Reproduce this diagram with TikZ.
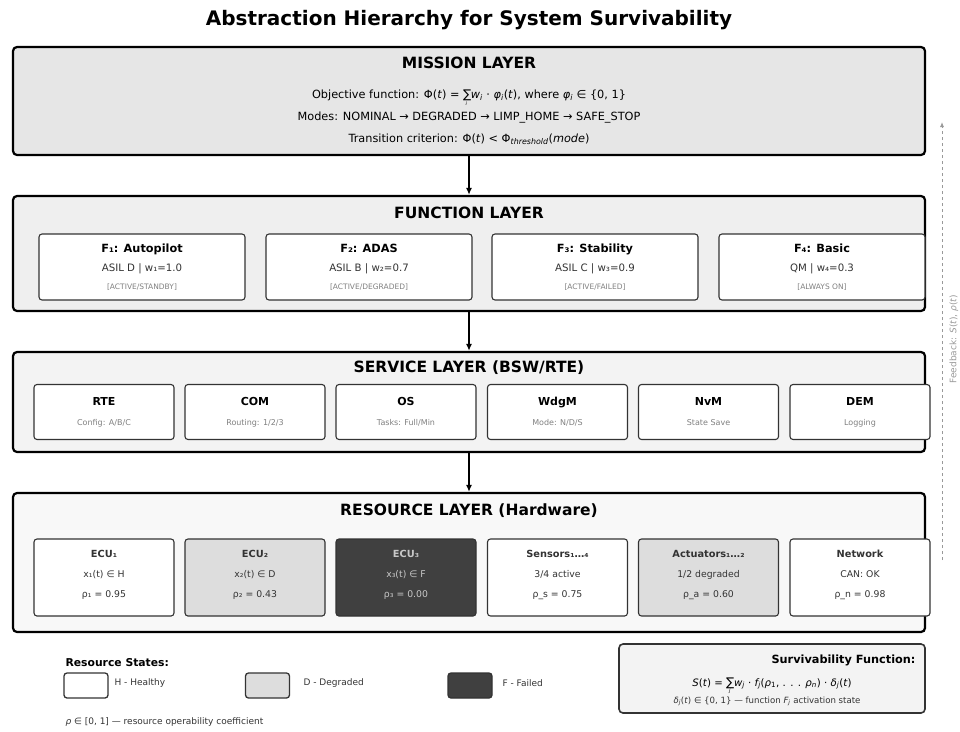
\documentclass[tikz,border=0pt]{standalone}
\usepackage{fontspec}
\setmainfont{DejaVu Sans}
\usetikzlibrary{arrows.meta}

\definecolor{missionfill}{HTML}{E6E6E6}
\definecolor{functionfill}{HTML}{EFEFEF}
\definecolor{servicefill}{HTML}{F3F3F3}
\definecolor{resourcefill}{HTML}{F8F8F8}
\definecolor{degradedfill}{HTML}{DDDDDD}
\definecolor{failedfill}{HTML}{404040}
\definecolor{failedtext}{HTML}{C8C8C8}
\definecolor{boxedge}{HTML}{333333}
\definecolor{subtext}{HTML}{333333}
\definecolor{faint}{HTML}{808080}
\definecolor{fbgray}{HTML}{999999}

% summation sign with an index set below it
\newcommand{\sumidx}[1]{\raisebox{-0.1ex}{\large ∑}\kern-0.5em\raisebox{-1.2ex}{\tiny\itshape #1}\kern0.35em}

\begin{document}
\begin{tikzpicture}[x=1pt,y=-1pt,
  layer/.style={draw=black, line width=2.2pt, rounded corners=4pt, minimum width=912pt, inner sep=0pt},
  layertitle/.style={font=\bfseries\fontsize{15.5}{18}\selectfont},
  line/.style={anchor=base, font=\fontsize{11.3}{13}\selectfont},
  fbox/.style={draw=boxedge, line width=1.1pt, rounded corners=3pt, fill=white,
    minimum width=206pt, minimum height=66pt, align=center, inner sep=0pt},
  sbox/.style={draw=boxedge, line width=1.1pt, rounded corners=3pt, fill=white,
    minimum width=140pt, minimum height=55pt, align=center, inner sep=0pt},
  rbox/.style={draw=boxedge, line width=1.1pt, rounded corners=3pt,
    minimum width=140pt, minimum height=77pt, inner sep=0pt},
  lbox/.style={draw=boxedge, line width=1.3pt, rounded corners=3pt,
    minimum width=44pt, minimum height=25pt, inner sep=0pt},
  legtext/.style={anchor=west, font=\fontsize{9}{11}\selectfont, text=subtext},
  down/.style={line width=1.6pt, -{Latex[length=7pt,width=6pt]}},
]
\useasboundingbox (0,0) rectangle (960,731);

\node[font=\bfseries\fontsize{20}{24}\selectfont] (title) at (469,20) {Abstraction Hierarchy for System Survivability};

% ---------------- mission layer
\node[layer, fill=missionfill, minimum height=108pt] (mission) at (469,101) {};
\node[layertitle] (missiontitle) at (469,62.5) {MISSION LAYER};
\node[line] (objective) at (469,98) {Objective function: Φ(\textit{t}) = \sumidx{i}\textit{w\textsubscript{i}} · \textit{φ\textsubscript{i}}(\textit{t}), where \textit{φ\textsubscript{i}} ∈ \{0, 1\}};
\node[line] (modes) at (469,120) {Modes: NOMINAL → DEGRADED → LIMP\_HOME → SAFE\_STOP};
\node[line] (criterion) at (469,142) {Transition criterion: Φ(\textit{t}) < Φ\textsubscript{\textit{threshold}}(\textit{mode})};

% ---------------- function layer
\node[layer, fill=functionfill, minimum height=115pt] (function) at (469,253.5) {};
\node[layertitle] (functiontitle) at (469,213) {FUNCTION LAYER};
\foreach \n/\x/\name/\asil/\st in {f1/142/F₁: Autopilot/ASIL D | w₁=1.0/{[ACTIVE/STANDBY]},
    f2/369/F₂: ADAS/ASIL B | w₂=0.7/{[ACTIVE/DEGRADED]},
    f3/595/F₃: Stability/ASIL C | w₃=0.9/{[ACTIVE/FAILED]},
    f4/822/F₄: Basic/QM | w₄=0.3/{[ALWAYS ON]}}
  \node[fbox] (\n) at (\x,267) {{\bfseries\fontsize{11.3}{13}\selectfont \name}\\[7pt]
    {\fontsize{10.2}{12}\selectfont\color{subtext}\asil}\\[6pt]
    {\fontsize{7.5}{9}\selectfont\color{faint}\st}};

% ---------------- service layer
\node[layer, fill=servicefill, minimum height=100pt] (service) at (469,402) {};
\node[layertitle] (servicetitle) at (469,368) {SERVICE LAYER (BSW/RTE)};
\foreach \n/\x/\name/\sub in {rte/104/RTE/{Config: A/B/C}, com/255/COM/{Routing: 1/2/3},
    os/406/OS/{Tasks: Full/Min}, wdgm/557.5/WdgM/{Mode: N/D/S},
    nvm/708.5/NvM/{State Save}, dem/860/DEM/{Logging}}
  \node[sbox] (\n) at (\x,412) {{\bfseries\fontsize{11}{13}\selectfont \name}\\[8pt]
    {\fontsize{8}{10}\selectfont\color{faint}\sub}};

% ---------------- resource layer
\node[layer, fill=resourcefill, minimum height=139pt] (resource) at (469,562.5) {};
\node[layertitle] (resourcetitle) at (469,511) {RESOURCE LAYER (Hardware)};
\foreach \n/\x/\fill/\tc/\name/\st/\rho in {ecu1/104/white/subtext/ECU₁/{x₁(t) ∈ H}/{ρ₁ = 0.95},
    ecu2/255/degradedfill/subtext/ECU₂/{x₂(t) ∈ D}/{ρ₂ = 0.43},
    ecu3/406/failedfill/failedtext/ECU₃/{x₃(t) ∈ F}/{ρ₃ = 0.00},
    sens/557.5/white/subtext/Sensors₁…₄/{3/4 active}/{ρ\_s = 0.75},
    act/708.5/degradedfill/subtext/Actuators₁…₂/{1/2 degraded}/{ρ\_a = 0.60},
    net/860/white/subtext/Network/{CAN: OK}/{ρ\_n = 0.98}}
  {
  \node[rbox, fill=\fill] (\n) at (\x,577.5) {};
  \node[text=\tc, align=center, inner sep=0pt] (\n-text) at ([yshift=3pt]\n.center)
    {{\bfseries\fontsize{9.8}{12}\selectfont \name\vphantom{ECU₁}}\\[8pt]
    {\fontsize{9.3}{11}\selectfont \st}\\[8pt]
    {\fontsize{9.3}{11}\selectfont \rho}};
  }

% ---------------- flow between layers
\draw[down] (mission) -- (function);
\draw[down] (function) -- (service);
\draw[down] (service) -- (resource);

% ---------------- feedback path
\coordinate (fbstart) at (942,560);
\coordinate (fbend) at (942,122);
\draw[fbgray, line width=0.9pt, dashed, -{Latex[length=5pt,width=4pt]}] (fbstart) -- (fbend);
\node[rotate=90, text=fbgray, font=\fontsize{9}{11}\selectfont, inner sep=1pt] (fblabel) at (954,339) {Feedback: \textit{S}(\textit{t}), \textit{ρ}(\textit{t})};

% ---------------- legend
\node[anchor=west, font=\bfseries\fontsize{10.8}{13}\selectfont] (legtitle) at (62,663) {Resource States:};
\node[lbox, fill=white] (legh) at (86,685.5) {};
\node[legtext] (leghl) at (111,683) {H - Healthy};
\node[lbox, fill=degradedfill] (legd) at (267.5,685.5) {};
\node[legtext] (legdl) at (300,683) {D - Degraded};
\node[lbox, fill=failedfill] (legf) at (470,685.5) {};
\node[legtext] (legfl) at (499,683) {F - Failed};
\node[legtext] (rhonote) at (62,722) {\textit{ρ} ∈ [0, 1] — resource operability coefficient};

% ---------------- survivability function
\node[draw=boxedge, line width=1.6pt, rounded corners=4pt, fill=servicefill,
  minimum width=306pt, minimum height=69pt] (surv) at (772,678.5) {};
\node[anchor=east, font=\bfseries\fontsize{11.3}{13}\selectfont] (survtitle) at (919,660) {Survivability Function:};
\node[anchor=base, font=\fontsize{10.2}{12}\selectfont] (survformula) at (772,686) {\textit{S}(\textit{t}) = \sumidx{j}\textit{w\textsubscript{j}} · \textit{f\textsubscript{j}}(\textit{ρ}\textsubscript{1}, . . . \textit{ρ\textsubscript{n}}) · \textit{δ\textsubscript{j}}(\textit{t})};
\node[anchor=base, font=\fontsize{8.6}{10}\selectfont, text=subtext] (survnote) at (767,703) {\textit{δ\textsubscript{j}}(\textit{t}) ∈ \{0, 1\} — function \textit{F\textsubscript{j}} activation state};

\end{tikzpicture}
\end{document}
